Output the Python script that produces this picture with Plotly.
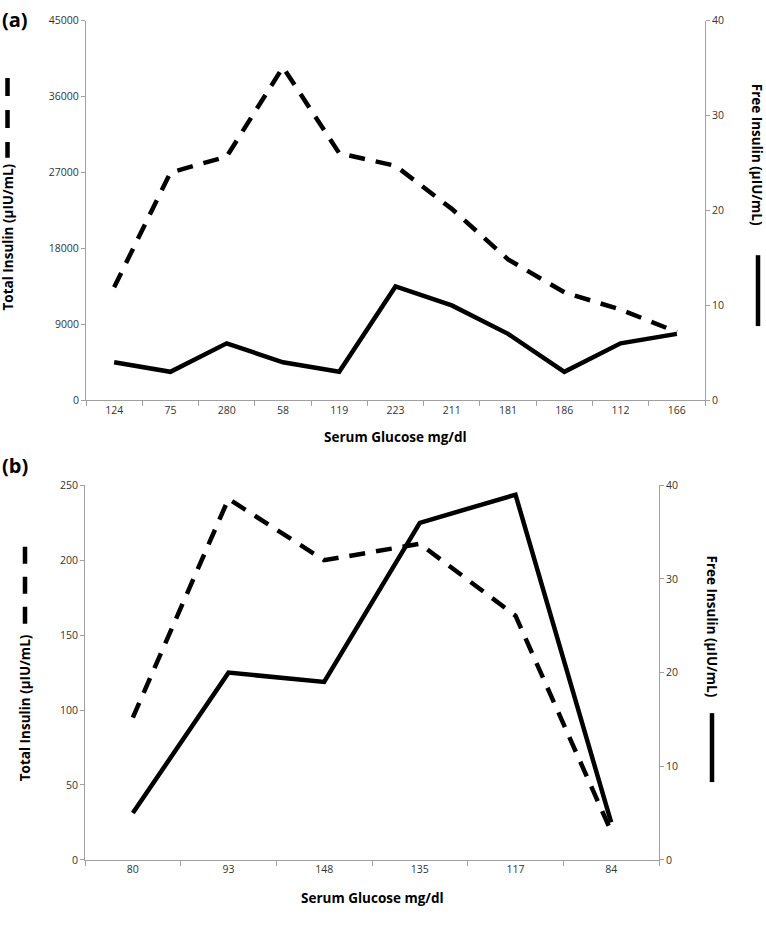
import plotly.graph_objects as go

# ---- data ----
glucose_a = ["124", "75", "280", "58", "119", "223", "211", "181", "186", "112", "166"]
total_a = [13400, 27000, 28900, 39500, 29300, 27800, 22700, 16700, 12800, 10750, 8100]
free_a = [4, 3, 6, 4, 3, 12, 10, 7, 3, 6, 7]

glucose_b = ["80", "93", "148", "135", "117", "84"]
total_b = [95, 241, 200, 211, 163, 19]
free_b = [5, 20, 19, 36, 39, 4]

W, H = 766, 925
FONT = "Open Sans"
AXC = "#a0a0a0"
TXT = "#333333"
DASH = "16px,11px"


def px(x):
    return x / W


def py(y):
    return 1 - y / H


fig = go.Figure()

# panel (a)
fig.add_trace(go.Scatter(x=glucose_a, y=total_a, mode="lines", xaxis="x", yaxis="y",
                         line=dict(color="black", width=4.5, dash=DASH), name="Total Insulin"))
fig.add_trace(go.Scatter(x=glucose_a, y=free_a, mode="lines", xaxis="x", yaxis="y2",
                         line=dict(color="black", width=4.5), name="Free Insulin"))
# panel (b)
fig.add_trace(go.Scatter(x=glucose_b, y=total_b, mode="lines", xaxis="x2", yaxis="y3",
                         line=dict(color="black", width=4.5, dash=DASH), name="Total Insulin"))
fig.add_trace(go.Scatter(x=glucose_b, y=free_b, mode="lines", xaxis="x2", yaxis="y4",
                         line=dict(color="black", width=4.5), name="Free Insulin"))

tickfont = dict(family=FONT, size=10.5, color=TXT)
common_x = dict(type="category", tickson="boundaries", ticks="outside", ticklen=5,
                tickcolor=AXC, showline=True, linecolor=AXC, linewidth=1,
                showgrid=False, zeroline=False, tickfont=tickfont, fixedrange=True)
common_y = dict(ticks="outside", ticklen=4, tickcolor=AXC, showline=True, linecolor=AXC,
                linewidth=1, showgrid=False, zeroline=False, tickfont=tickfont,
                tickformat="d", fixedrange=True)

fig.update_layout(
    width=W, height=H,
    margin=dict(l=0, r=0, t=0, b=0),
    paper_bgcolor="white", plot_bgcolor="white",
    showlegend=False,
    font=dict(family=FONT, color="black"),
    xaxis=dict(domain=[px(86), px(705)], anchor="y", range=[-0.5, 10.5], **common_x),
    yaxis=dict(domain=[py(399.3), py(14)], anchor="x", range=[0, 45000], dtick=9000, **common_y),
    yaxis2=dict(overlaying="y", side="right", anchor="x", range=[0, 40], dtick=10, **common_y),
    xaxis2=dict(domain=[px(85), px(659)], anchor="y3", range=[-0.5, 5.5], **common_x),
    yaxis3=dict(domain=[py(866), py(485.7)], anchor="x2", range=[0, 250], dtick=50, **common_y),
    yaxis4=dict(overlaying="y3", side="right", anchor="x2", range=[0, 40], dtick=10, **common_y),
)

title_font = dict(family=FONT, size=13.5, color="black")
anns = [
    dict(text="<b>(a)</b>", x=px(0), y=py(13), xanchor="left", yanchor="middle",
         font=dict(family=FONT, size=20, color="black")),
    dict(text="<b>(b)</b>", x=px(0), y=py(466), xanchor="left", yanchor="middle",
         font=dict(family=FONT, size=20, color="black")),
    dict(text="<b>Total Insulin (µIU/mL)</b>", x=px(8), y=py(234), textangle=-90,
         xanchor="center", yanchor="middle", font=title_font),
    dict(text="<b>Free Insulin (µIU/mL)</b>", x=px(757), y=py(150), textangle=90,
         xanchor="center", yanchor="middle", font=title_font),
    dict(text="<b>Serum Glucose mg/dl</b>", x=px(395.5), y=py(437), xanchor="center",
         yanchor="middle", font=title_font),
    dict(text="<b>Total Insulin (µIU/mL)</b>", x=px(25), y=py(712), textangle=-90,
         xanchor="center", yanchor="middle", font=title_font),
    dict(text="<b>Free Insulin (µIU/mL)</b>", x=px(712), y=py(629), textangle=90,
         xanchor="center", yanchor="middle", font=title_font),
    dict(text="<b>Serum Glucose mg/dl</b>", x=px(372), y=py(905), xanchor="center",
         yanchor="middle", font=title_font),
]
for a in anns:
    a.update(xref="paper", yref="paper", showarrow=False)
fig.update_layout(annotations=anns)

# legend-like line samples next to the axis titles
shapes = [
    dict(type="line", x0=px(7.5), x1=px(7.5), y0=py(72), y1=py(153),
         line=dict(color="black", width=4.5, dash="18px,14px")),
    dict(type="line", x0=px(758), x1=px(758), y0=py(252), y1=py(324),
         line=dict(color="black", width=4.5)),
    dict(type="line", x0=px(25), x1=px(25), y0=py(548), y1=py(628),
         line=dict(color="black", width=4.5, dash="17px,13px")),
    dict(type="line", x0=px(712), x1=px(712), y0=py(717), y1=py(787),
         line=dict(color="black", width=4.5)),
]
for s in shapes:
    s.update(xref="paper", yref="paper")
fig.update_layout(shapes=shapes)

fig.write_html(
    "out.html",
    config={"displayModeBar": False},
    post_script="document.body.style.margin='0';document.body.style.overflow='hidden';",
)
